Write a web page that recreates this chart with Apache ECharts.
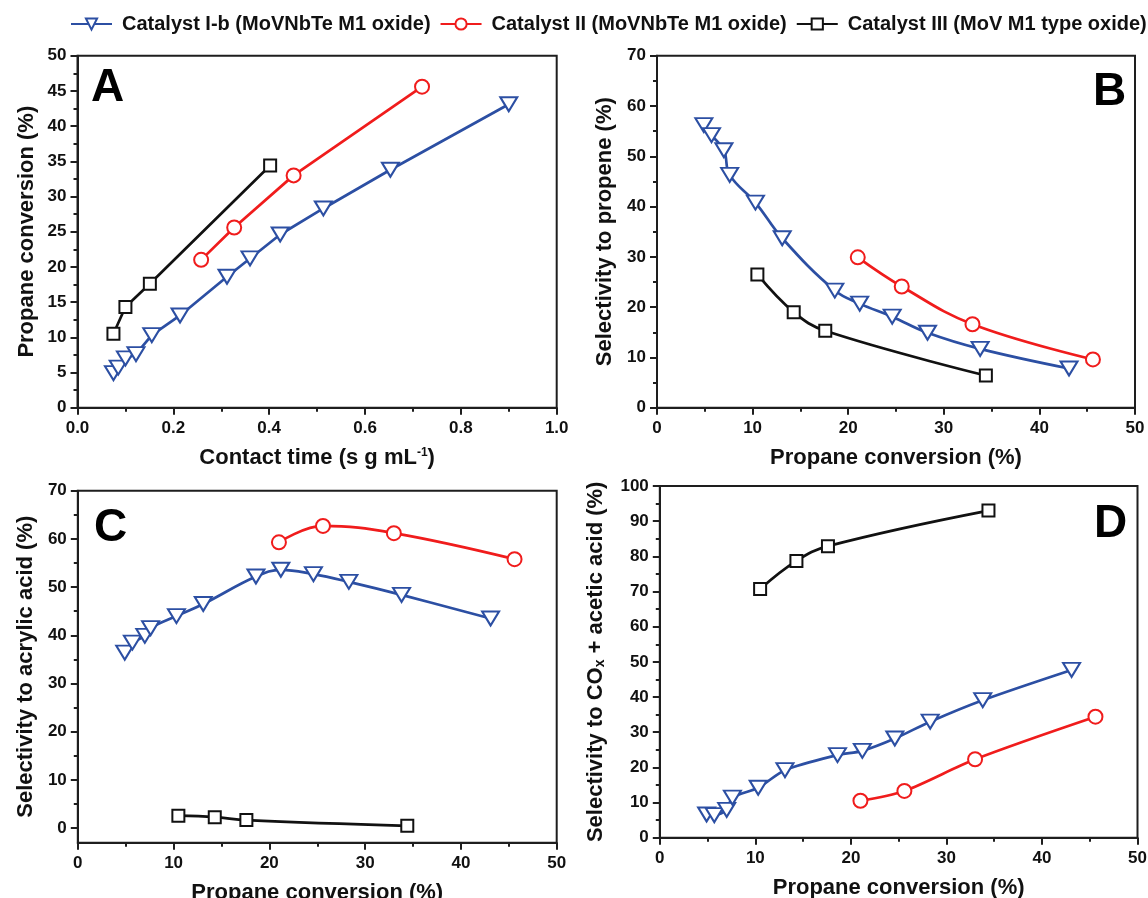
<!DOCTYPE html>
<html>
<head>
<meta charset="utf-8">
<script src="https://cdn.jsdelivr.net/npm/echarts@6/dist/echarts.min.js"></script>
<style>
  html, body { margin: 0; padding: 0; background: #fff; }
  #chart { width: 1148px; height: 898px; }
</style>
</head>
<body>
<div id="chart"></div>
<script>
// Series names
const catalystNames = [
  'Catalyst I-b (MoVNbTe M1 oxide)',
  'Catalyst II (MoVNbTe M1 oxide)',
  'Catalyst III (MoV M1 type oxide)'
];

// Contact time (s g mL-1)
const contactTimeIb = [0.075, 0.085, 0.10, 0.122, 0.155, 0.214, 0.312, 0.36, 0.423, 0.513, 0.653, 0.90];
const contactTimeII = [0.258, 0.327, 0.451, 0.719];
const contactTimeIII = [0.075, 0.10, 0.151, 0.402];

// Propane conversion (%)
const conversionIb = [4.9, 5.7, 7.0, 7.6, 10.3, 13.1, 18.6, 21.2, 24.6, 28.3, 33.8, 43.1];
const conversionII = [21.0, 25.6, 33.0, 45.6];
const conversionIII = [10.5, 14.3, 17.6, 34.4];

// Selectivity to propene (%)
const propeneIb = [56.2, 54.2, 51.2, 46.3, 40.8, 33.7, 23.3, 20.7, 18.1, 14.9, 11.7, 7.8];
const propeneII = [29.9, 24.1, 16.6, 9.6];
const propeneIII = [26.5, 19.0, 15.3, 6.4];

// Selectivity to acrylic acid (%)
const acrylicIb = [36.4, 38.5, 39.9, 41.5, 44.0, 46.5, 52.2, 53.6, 52.7, 51.1, 48.4, 43.5];
const acrylicII = [59.3, 62.7, 61.2, 55.8];
const acrylicIII = [2.6, 2.3, 1.7, 0.5];

// Selectivity to COx + acetic acid (%)
const coxAceticIb = [6.6, 6.4, 7.9, 11.4, 14.2, 19.2, 23.5, 24.7, 28.2, 33.0, 39.1, 47.7];
const coxAceticII = [10.5, 13.3, 22.3, 34.4];
const coxAceticIII = [70.7, 78.7, 82.9, 93.0];

// Tick labels of panel C's y axis (axis extends slightly below zero)
const acrylicTicks = [0, 10, 20, 30, 40, 50, 60, 70];
const acrylicMinorTicks = [5, 15, 25, 35, 45, 55, 65];

const FONT = 'Liberation Sans, Arial, Helvetica, sans-serif';
const AXIS_COLOR = '#1e1e1e';
const TEXT_COLOR = '#111';

const styles = [
  { color: '#2c4fa3', symbol: 'emptyTriangle', symbolRotate: 180, symbolSize: [17, 14] },
  { color: '#f01c1c', symbol: 'emptyCircle', symbolRotate: 0, symbolSize: 14 },
  { color: '#111111', symbol: 'emptyRect', symbolRotate: 0, symbolSize: 12 }
];

const chart = echarts.init(document.getElementById('chart'), null, { renderer: 'canvas' });

function pairs(xs, ys) {
  return xs.map((x, i) => [x, ys[i]]);
}

function makeSeries(k, panel, xs, ys, smooth) {
  const s = styles[k];
  return {
    type: 'line',
    name: catalystNames[k],
    xAxisIndex: panel,
    yAxisIndex: panel,
    data: pairs(xs, ys),
    smooth: smooth,
    symbol: s.symbol,
    symbolRotate: s.symbolRotate,
    symbolSize: s.symbolSize,
    color: s.color,
    lineStyle: { color: s.color, width: 2.7 },
    itemStyle: { color: s.color, borderColor: s.color, borderWidth: 2.2 },
    emphasis: { disabled: true },
    z: 3 + k
  };
}

const titleStyle = { fontFamily: FONT, fontWeight: 'bold', fontSize: 22, color: TEXT_COLOR };
const richScript = {
  sup: { fontFamily: FONT, fontWeight: 'bold', fontSize: 12, color: TEXT_COLOR, verticalAlign: 'top', padding: [0, 0, 8, 0] },
  sub: { fontFamily: FONT, fontWeight: 'bold', fontSize: 14, color: TEXT_COLOR, verticalAlign: 'bottom', padding: [6, 0, 0, 0] }
};

function valueAxis(opts) {
  return {
    type: 'value',
    gridIndex: opts.grid,
    min: opts.min,
    max: opts.max,
    interval: opts.interval,
    name: opts.name,
    nameLocation: 'middle',
    nameGap: opts.nameGap,
    nameTextStyle: Object.assign({}, titleStyle, { rich: { sup: richScript.sup, sub: richScript.sub } }),
    axisLine: { show: true, onZero: false, lineStyle: { color: AXIS_COLOR, width: 2 } },
    axisTick: { show: true, inside: false, length: 7, lineStyle: { color: AXIS_COLOR, width: 2 } },
    minorTick: { show: true, splitNumber: 2, length: 4, lineStyle: { color: AXIS_COLOR, width: 2 } },
    axisLabel: {
      fontFamily: FONT, fontWeight: 'bold', fontSize: 17, color: TEXT_COLOR, margin: opts.labelMargin,
      formatter: opts.formatter
    },
    splitLine: { show: false },
    minorSplitLine: { show: false }
  };
}

const grids = [
  { left: 77.5, top: 55.7, width: 479.2, height: 352 },
  { left: 657, top: 55.7, width: 478, height: 352 },
  { left: 77.8, top: 490.7, width: 478.9, height: 352 },
  { left: 659.8, top: 486, width: 477.7, height: 351.7 }
].map(g => Object.assign({
  show: true, borderColor: AXIS_COLOR, borderWidth: 2, backgroundColor: 'transparent',
  containLabel: false, outerBoundsMode: 'none'
}, g));

const xAxes = [
  valueAxis({ grid: 0, min: 0, max: 1, interval: 0.2, name: 'Contact time (s g mL{sup|-1})', nameGap: 39, labelMargin: 12,
    formatter: v => v.toFixed(1) }),
  valueAxis({ grid: 1, min: 0, max: 50, interval: 10, name: 'Propane conversion (%)', nameGap: 39, labelMargin: 12 }),
  valueAxis({ grid: 2, min: 0, max: 50, interval: 10, name: 'Propane conversion (%)', nameGap: 39, labelMargin: 12 }),
  valueAxis({ grid: 3, min: 0, max: 50, interval: 10, name: 'Propane conversion (%)', nameGap: 39, labelMargin: 12 })
];

const yAxes = [
  valueAxis({ grid: 0, min: 0, max: 50, interval: 5, name: 'Propane conversion (%)', nameGap: 40, labelMargin: 11 }),
  valueAxis({ grid: 1, min: 0, max: 70, interval: 10, name: 'Selectivity to propene (%)', nameGap: 41, labelMargin: 11 }),
  (function () {
    const ax = valueAxis({ grid: 2, min: -3, max: 70, name: 'Selectivity to acrylic acid (%)', nameGap: 41, labelMargin: 11 });
    delete ax.interval;
    ax.minorTick = { show: false };
    ax.axisTick.customValues = acrylicTicks;
    ax.axisLabel.customValues = acrylicTicks;
    return ax;
  })(),
  valueAxis({ grid: 3, min: 0, max: 100, interval: 10, name: 'Selectivity to CO{sub|x} + acetic acid (%)', nameGap: 53, labelMargin: 11 }),
  // minor ticks of panel C's y axis
  {
    type: 'value', gridIndex: 2, min: -3, max: 70, position: 'left',
    axisLine: { show: false },
    axisLabel: { show: false },
    splitLine: { show: false },
    axisTick: { show: true, inside: false, length: 4, customValues: acrylicMinorTicks, lineStyle: { color: AXIS_COLOR, width: 2 } }
  }
];

const series = [
  // A: conversion vs contact time
  makeSeries(0, 0, contactTimeIb, conversionIb, false),
  makeSeries(1, 0, contactTimeII, conversionII, false),
  makeSeries(2, 0, contactTimeIII, conversionIII, false),
  // B: propene selectivity
  makeSeries(0, 1, conversionIb, propeneIb, 0.4),
  makeSeries(1, 1, conversionII, propeneII, 0.4),
  makeSeries(2, 1, conversionIII, propeneIII, 0.4),
  // C: acrylic acid selectivity
  makeSeries(0, 2, conversionIb, acrylicIb, 0.4),
  makeSeries(1, 2, conversionII, acrylicII, 0.4),
  makeSeries(2, 2, conversionIII, acrylicIII, 0.4),
  // D: COx + acetic acid selectivity
  makeSeries(0, 3, conversionIb, coxAceticIb, 0.3),
  makeSeries(1, 3, conversionII, coxAceticII, 0.3),
  makeSeries(2, 3, conversionIII, coxAceticIII, 0.4)
];

function panelLetter(text, left, top) {
  return {
    type: 'text', left: left, top: top, z: 10,
    style: { text: text, fill: '#000', font: 'bold 46px ' + FONT }
  };
}

chart.setOption({
  animation: false,
  backgroundColor: '#fff',
  legend: {
    data: catalystNames,
    left: 70, top: 14, width: 1120, padding: 0,
    itemWidth: 41, itemHeight: 14, itemGap: 9,
    textStyle: { fontFamily: FONT, fontWeight: 'bold', fontSize: 20, color: TEXT_COLOR, padding: [0, 0, 0, 5] },
    selectedMode: false
  },
  grid: grids,
  xAxis: xAxes,
  yAxis: yAxes,
  series: series,
  graphic: [
    panelLetter('A', 91, 65),
    panelLetter('B', 1093, 69),
    panelLetter('C', 94, 505),
    panelLetter('D', 1094, 501)
  ]
});
</script>
</body>
</html>
